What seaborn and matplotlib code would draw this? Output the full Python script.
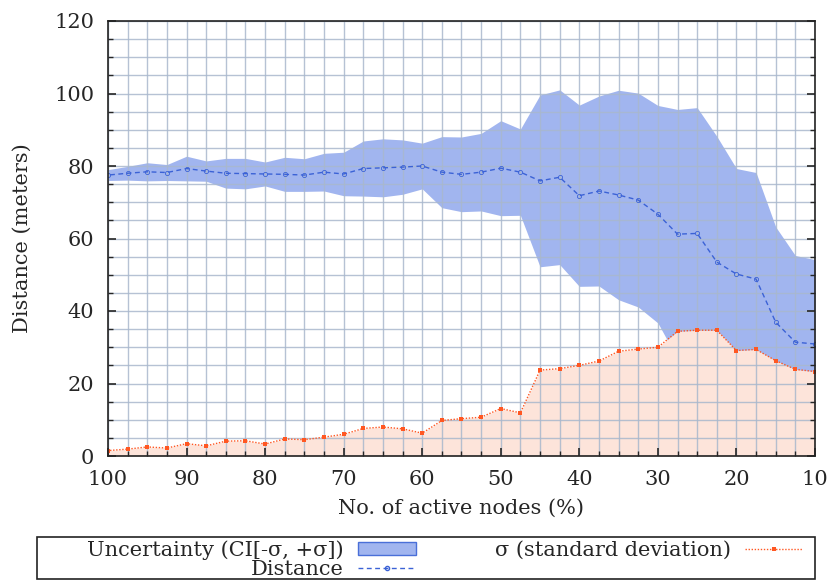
import numpy as np
import pandas as pd
import matplotlib
matplotlib.use("Agg")
import matplotlib.pyplot as plt
from matplotlib.patches import Patch, Rectangle
from matplotlib.lines import Line2D
from matplotlib.ticker import MultipleLocator
import seaborn as sns

active_nodes = [100, 97.5, 95, 92.5, 90, 87.5, 85, 82.5, 80, 77.5, 75, 72.5, 70,
                67.5, 65, 62.5, 60, 57.5, 55, 52.5, 50, 47.5, 45, 42.5, 40, 37.5,
                35, 32.5, 30, 27.5, 25, 22.5, 20, 17.5, 15, 12.5, 10]
distance = [77.5, 78.0, 78.4, 78.2, 79.3, 78.6, 78.0, 77.9, 77.8, 77.7, 77.5, 78.3,
            77.8, 79.3, 79.5, 79.7, 80.0, 78.3, 77.7, 78.3, 79.4, 78.3, 75.9, 76.9,
            71.8, 73.1, 72.0, 70.6, 66.7, 61.2, 61.4, 53.5, 50.2, 48.8, 36.9, 31.4, 30.9]
sigma = [1.5, 1.9, 2.5, 2.2, 3.4, 2.8, 4.1, 4.2, 3.3, 4.7, 4.5, 5.2, 6.0, 7.6, 8.0,
         7.5, 6.3, 9.8, 10.3, 10.7, 13.1, 11.9, 23.7, 24.1, 25.0, 26.2, 28.9, 29.5,
         30.0, 34.4, 34.7, 34.7, 29.1, 29.4, 26.3, 23.9, 23.3]
x_ticks = [100, 90, 80, 70, 60, 50, 40, 30, 20, 10]
y_ticks = [0, 20, 40, 60, 80, 100, 120]

labels = ["Uncertainty (CI[-σ, +σ])", "Distance", "σ (standard deviation)"]

df = pd.DataFrame({"nodes": active_nodes, "distance": distance, "sigma": sigma})
df["lo"] = df["distance"] - df["sigma"]
df["hi"] = df["distance"] + df["sigma"]

sns.set_style("ticks")
plt.rcParams["font.family"] = ["DejaVu Serif", "DejaVu Sans"]
plt.rcParams["font.size"] = 15

band_color = "#a1b5ef"
band_edge = "#4a6fd8"
dist_color = "#3b62d6"
sig_color = "#ff5722"
sig_fill = "#fde4da"
grid_color = "#a9b8cd"

fig = plt.figure(figsize=(8.32, 5.8), dpi=100)
ax = fig.add_axes([108 / 832, 1 - 456 / 580, 707 / 832, 435 / 580])

ax.fill_between(df["nodes"], df["lo"], df["hi"], color=band_color, lw=0, zorder=1.2)
ax.fill_between(df["nodes"], 0, df["sigma"], color=sig_fill, lw=0, zorder=1.5)

sns.lineplot(data=df, x="nodes", y="distance", ax=ax, color=dist_color, lw=1.0,
             linestyle=(0, (3.5, 2.5)), marker="o", markersize=3, markeredgewidth=0.6,
             markerfacecolor="none", markeredgecolor=dist_color, zorder=4)
sns.lineplot(data=df, x="nodes", y="sigma", ax=ax, color=sig_color, lw=1.0,
             linestyle=(0, (1, 1.2)), marker="s", markersize=3, markeredgewidth=0,
             zorder=5)

ax.set_xlim(100, 10)
ax.set_ylim(0, 120)
ax.set_xticks(x_ticks)
ax.set_yticks(y_ticks)
ax.xaxis.set_minor_locator(MultipleLocator(2.5))
ax.yaxis.set_minor_locator(MultipleLocator(5))
ax.set_axisbelow(False)
ax.grid(which="both", color=grid_color, lw=1.0, alpha=0.85)
ax.xaxis.set_zorder(2.5)
ax.yaxis.set_zorder(2.5)
ax.tick_params(which="major", direction="in", length=6, width=1.2, top=False,
               right=True, labelsize=15, pad=10)
ax.tick_params(which="minor", direction="in", length=3.5, width=1.0, top=False,
               right=True)
for s in ax.spines.values():
    s.set_color("#222222")
    s.set_linewidth(1.2)
    s.set_zorder(6)
ax.set_xlabel("No. of active nodes (%)", fontsize=15, labelpad=7)
ax.set_ylabel("Distance (meters)", fontsize=15, labelpad=16)

# legend box frame
fig.patches.append(Rectangle((37 / 832, 1 / 580), 778 / 832, 42 / 580,
                             transform=fig.transFigure, fill=False,
                             edgecolor="#222222", lw=1.2))

handles = [
    Patch(facecolor=band_color, edgecolor=band_edge, lw=1.0),
    Line2D([], [], color=dist_color, lw=1.0, linestyle=(0, (3.5, 2.5)), marker="o",
           markersize=3, markerfacecolor="none", markeredgecolor=dist_color),
    Line2D([], [], color=sig_color, lw=1.0, linestyle=(0, (1, 1.2)), marker="s",
           markersize=3, markeredgewidth=0),
]
leg = fig.legend(handles, labels, loc="upper right",
                 bbox_to_anchor=(803 / 832, 1 - 540 / 580),
                 ncol=2, markerfirst=False, fontsize=15,
                 frameon=False, borderpad=0.0, labelspacing=0.0,
                 handlelength=2.8, handleheight=0.55, handletextpad=0.65,
                 columnspacing=3.8, borderaxespad=0.0)

fig.savefig("out.png", dpi=100)
